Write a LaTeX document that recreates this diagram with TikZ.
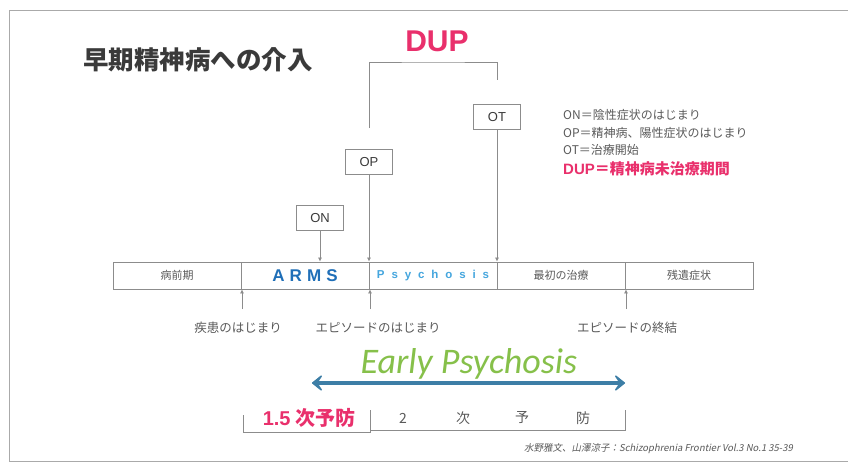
\documentclass[tikz,border=0pt]{standalone}
\usepackage{fontspec}
\setmainfont{Noto Sans CJK JP}
\newfontfamily\lsans{Liberation Sans}
\newfontfamily\armsfont[LetterSpace=30]{Liberation Sans}
\newfontfamily\psyfont[LetterSpace=60]{Liberation Sans}
\newfontfamily\carlito{Carlito}
\newfontfamily\citefont[FakeSlant=0.2]{Noto Sans CJK JP}
\usetikzlibrary{arrows.meta}
\definecolor{pinkc}{HTML}{E9306C}
\definecolor{armsblue}{HTML}{1F6FB8}
\definecolor{psyblue}{HTML}{45A6DE}
\definecolor{greenc}{HTML}{86C04A}
\definecolor{arrowblue}{HTML}{3D7EA6}
\definecolor{grayline}{HTML}{8C8C8C}
\definecolor{graytext}{HTML}{5A5A5A}
\definecolor{titlec}{HTML}{3A3A3A}
\definecolor{framec}{HTML}{AAAAAA}
\tikzset{
  cell/.style={draw=grayline, line width=0.8pt, minimum width=128pt, minimum height=27pt, inner sep=0pt, text=graytext, font=\fontsize{11}{11}\selectfont},
  tagbox/.style={draw=grayline, line width=0.8pt, minimum width=47pt, minimum height=25pt, inner sep=0pt, text=titlec, font=\lsans\fontsize{13}{13}\selectfont},
  pin/.style={draw=grayline, line width=0.7pt, -{Latex[length=4pt,width=4pt]}},
  lab/.style={text=graytext, font=\fontsize{12.5}{12.5}\selectfont, inner sep=0pt},
  legend/.style={anchor=west, text=graytext, font=\fontsize{12}{12}\selectfont, inner sep=0pt},
  brk/.style={draw=grayline, line width=0.8pt},
  prev/.style={text=graytext, font=\fontsize{14}{14}\selectfont, inner sep=0pt},
  ehead/.tip={Stealth[length=13pt,width=21pt,inset=7pt,round]}
}
\begin{document}
\begin{tikzpicture}[x=1pt,y=-1pt]
\useasboundingbox (0,0) rectangle (848,469);
\fill[white] (0,0) rectangle (848,469);
% frame
\draw[framec, line width=0.8pt] (848,10) -- (9,10) -- (9,461) -- (848,461);
% title
\node[anchor=west, inner sep=0pt, text=titlec, font=\fontsize{25.5}{25.5}\selectfont\bfseries] (title) at (83,60) {早期精神病への介入};
% DUP
\node[inner sep=0pt, text=pinkc, font=\lsans\fontsize{30}{30}\selectfont\bfseries] (dup) at (437,41) {DUP};
\coordinate (dupbar) at (433,62);
\coordinate (bl) at (369,128);
\coordinate (br) at (497,80);
\draw[brk] (bl) |- (dupbar) -| (br);
% bar cells
\node[cell] (c1) at (177,275.5) {病前期};
\node[cell] (c2) at (305,275.5) {\armsfont\fontsize{17}{17}\selectfont\bfseries\color{armsblue}ARMS};
\node[cell] (c3) at (433,275.5) {\psyfont\fontsize{11.5}{11.5}\selectfont\bfseries\color{psyblue}Psychosis};
\node[cell] (c4) at (561,275.5) {最初の治療};
\node[cell] (c5) at (689,275.5) {残遺症状};
% tag boxes
\node[tagbox] (on) at (320,218) {ON};
\node[tagbox] (op) at (369,162) {OP};
\node[tagbox] (ot) at (497,117) {OT};
\draw[pin] (on.south) -- (on.south |- c2.north);
\draw[pin] (op.south) -- (op.south |- c3.north);
\draw[pin] (ot.south) -- (ot.south |- c4.north);
% legend
\node[legend] (g1) at (563,115) {ON＝陰性症状のはじまり};
\node[legend] (g2) at (563,133) {OP＝精神病、陽性症状のはじまり};
\node[legend] (g3) at (563,150) {OT＝治療開始};
\node[legend, text=pinkc, font=\fontsize{15}{15}\selectfont\bfseries] (g4) at (563,169) {{\lsans\bfseries DUP}＝精神病未治療期間};
% up arrows and labels
\coordinate (u1) at (242,309);
\coordinate (u2) at (370,309);
\coordinate (u3) at (626,309);
\draw[pin] (u1) -- (u1 |- c1.south);
\draw[pin] (u2) -- (u2 |- c2.south);
\draw[pin] (u3) -- (u3 |- c4.south);
\node[lab] (l1) at (238,328) {疾患のはじまり};
\node[lab] (l2) at (378,328) {エピソードのはじまり};
\node[lab] (l3) at (627,328) {エピソードの終結};
% Early psychosis
\node[anchor=base, inner sep=0pt, text=greenc, font=\carlito\itshape\fontsize{36}{36}\selectfont] (ep) at (469,373) {Early Psychosis};
\coordinate (ea) at (312,383);
\coordinate (eb) at (625,383);
\draw[arrowblue, line width=3.5pt, {ehead}-{ehead}] (ea) -- (eb);
% prevention brackets
\coordinate (p1) at (243,415);
\coordinate (p2) at (370,410);
\coordinate (p3) at (625,410);
\draw[brk] (p1) -- ++(0,17) -| (p2);
\draw[brk] (370,430) -| (p3);
\node[inner sep=0pt, text=pinkc, font=\fontsize{20}{20}\selectfont\bfseries] (p15) at (309,418) {{\lsans\bfseries 1.5} 次予防};
\node[prev] (q1) at (403,418) {2};
\node[prev] (q2) at (463,418) {次};
\node[prev] (q3) at (522,418) {予};
\node[prev] (q4) at (583,418) {防};
% citation
\node[anchor=east, inner sep=0pt, text=graytext, font=\citefont\fontsize{9.5}{9.5}\selectfont] (cite) at (793,449) {水野雅文、山澤涼子：Schizophrenia Frontier Vol.3 No.1 35-39};
\end{tikzpicture}
\end{document}
